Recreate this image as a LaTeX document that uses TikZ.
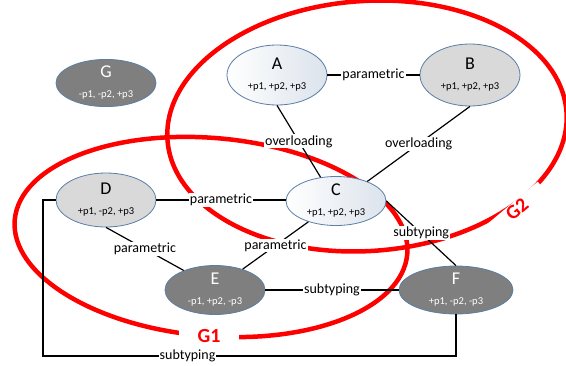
\documentclass[tikz,border=0pt]{standalone}
\usepackage{fontspec}
\setmainfont{Carlito}
\usetikzlibrary{shapes.geometric}

\definecolor{groupred}{HTML}{FF0000}
\definecolor{nodeline}{HTML}{5A7EA6}
\definecolor{lightfill}{HTML}{DCE3EC}
\definecolor{grayfill}{HTML}{D9D9D9}
\definecolor{darkfill}{HTML}{7F7F7F}

\newcommand{\PicW}{566}
\newcommand{\PicH}{365}
\newcommand{\NodeW}{100pt}
\newcommand{\nodeText}[2]{{\fontsize{18}{20}\selectfont #1}\\#2}
\newcommand{\drawGroup}[4]{
    \draw[groupline, rotate around={#4:(#1)}] (#1) ellipse (#2 and #3);
}

\tikzset{
    classnode/.style={ellipse, draw=nodeline, line width=0.8pt, inner sep=0pt,
        minimum width=\NodeW, align=center, font=\fontsize{10.5}{20}\selectfont},
    lightnode/.style={classnode, left color=white, right color=lightfill},
    graynode/.style={classnode, fill=grayfill},
    darknode/.style={classnode, fill=darkfill, text=white},
    relation/.style={line width=1.2pt},
    rel/.style={fill=white, inner sep=1pt, font=\fontsize{14}{14}\selectfont},
    groupline/.style={groupred, line width=4.5pt},
    grouplabel/.style={fill=white, text=groupred, inner xsep=19pt, inner ysep=1pt,
        font=\fontsize{20}{20}\selectfont\bfseries}
}

\begin{document}
\begin{tikzpicture}[x=1pt,y=-1pt]
    \useasboundingbox (0,0) rectangle (\PicW,\PicH);

    % groups
    \coordinate (G1c) at (211,237);
    \coordinate (G2c) at (367,126);
    \drawGroup{G1c}{197pt}{99pt}{-5}
    \drawGroup{G2c}{200pt}{125pt}{4}

    % classes
    \node[lightnode, minimum height=60pt] (A) at (277,75) {\nodeText{A}{+p1, +p2, +p3}};
    \node[graynode, minimum height=62pt] (B) at (470,75) {\nodeText{B}{+p1, +p2, +p3}};
    \node[lightnode, minimum height=49pt] (C) at (336,201) {\nodeText{C}{+p1, +p2, +p3}};
    \node[graynode, minimum height=54pt] (D) at (106,200) {\nodeText{D}{+p1, -p2, +p3}};
    \node[darknode, minimum height=49pt] (E) at (215,290) {\nodeText{E}{-p1, +p2, -p3}};
    \node[darknode, minimum width=114pt, minimum height=48pt] (F) at (456,290) {\nodeText{F}{+p1, -p2, -p3}};
    \node[darknode, minimum height=47pt] (G) at (106,83) {\nodeText{G}{-p1, -p2, +p3}};

    % relations
    \draw[relation] (A) -- (B) node[midway, rel] {parametric};
    \draw[relation] (A.south) -- (C.123) node[midway, rel] {overloading};
    \draw[relation] (B.south) -- (C.32) node[midway, rel] {overloading};
    \draw[relation] (D.east) -- (D.east -| C.west) node[midway, rel] {parametric};
    \draw[relation] (D.south) -- (E.148) node[midway, rel] {parametric};
    \draw[relation] (C.217) -- (E.37) node[midway, rel] {parametric};
    \draw[relation] (C.east) -- (F.north) node[midway, rel] {subtyping};
    \draw[relation] (E) -- (F) node[midway, rel] {subtyping};

    \coordinate (DF) at (43,356);
    \draw[relation] (D.west) -- (D.west -| DF) -- (DF) -- (DF -| F.south)
        node[pos=0.35, rel] {subtyping} -- (F.south);

    % group names
    \node[grouplabel] (G1) at (209,336) {G1};
    \node[grouplabel, inner xsep=22pt, rotate=40] (G2) at (517,209) {G2};
\end{tikzpicture}
\end{document}
